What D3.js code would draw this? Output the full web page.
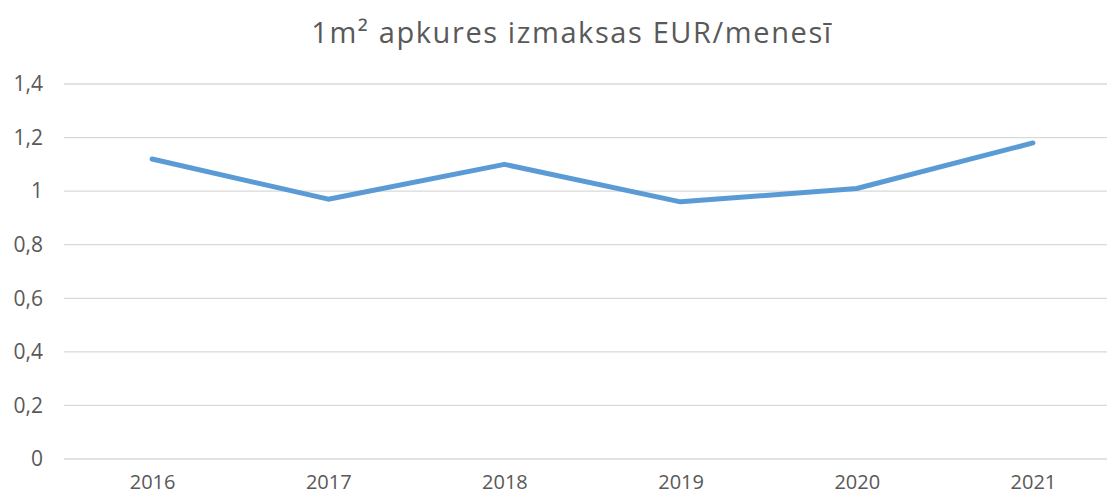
<!DOCTYPE html>
<html>
<head>
<meta charset="utf-8">
<script src="https://cdn.jsdelivr.net/npm/d3@7"></script>
<style>
  body { margin: 0; background: #fff; }
  text { font-family: "Open Sans", "Noto Sans", sans-serif; fill: #595959; }
</style>
</head>
<body>
<div id="chart"></div>
<script>
// Data
const years = ["2016", "2017", "2018", "2019", "2020", "2021"]
const costs = [1.12, 0.97, 1.10, 0.96, 1.01, 1.18]
const yTicks = [0, 0.2, 0.4, 0.6, 0.8, 1, 1.2, 1.4]
const title = "1m² apkures izmaksas EUR/menesī"

// Dimensions
let dimensions = {
    width: 1107,
    height: 497,
    margin: { top: 84, right: -14, bottom: 38, left: 64 },
}
dimensions.boundedWidth = dimensions.width - dimensions.margin.left - dimensions.margin.right
dimensions.boundedHeight = dimensions.height - dimensions.margin.top - dimensions.margin.bottom

const svg = d3.select("#chart")
    .append("svg")
        .attr("width", dimensions.width)
        .attr("height", dimensions.height)
const bounds = svg.append("g")
    .attr("transform", `translate(${dimensions.margin.left},${dimensions.margin.top})`)

// Scales
const xScale = d3.scalePoint()
    .domain(years)
    .range([0, dimensions.boundedWidth])
    .padding(0.5)
const yScale = d3.scaleLinear()
    .domain([0, 1.4])
    .range([dimensions.boundedHeight, 0])

// Gridlines
bounds.append("g")
    .selectAll("line")
    .data(yTicks)
    .join("line")
        .attr("x1", 0)
        .attr("x2", dimensions.boundedWidth)
        .attr("y1", d => yScale(d))
        .attr("y2", d => yScale(d))
        .attr("stroke", "#d9d9d9")
        .attr("stroke-width", 1.3)

// Y axis
const yAxis = bounds.append("g")
    .call(d3.axisLeft(yScale)
        .tickValues(yTicks)
        .tickSize(0)
        .tickPadding(21)
        .tickFormat(d => d3.format("")(d).replace(".", ",")))
yAxis.select(".domain").remove()
yAxis.selectAll("text")
    .style("font-size", "21px")
    .attr("fill", "#595959")

// X axis
const xAxis = bounds.append("g")
    .attr("transform", `translate(0,${dimensions.boundedHeight})`)
    .call(d3.axisBottom(xScale).tickSize(0).tickPadding(16))
xAxis.select(".domain").remove()
xAxis.selectAll("text")
    .style("font-size", "20px")
    .attr("fill", "#595959")

// Line
const lineGenerator = d3.line()
    .x((d, i) => xScale(years[i]))
    .y(d => yScale(d))
bounds.append("path")
    .attr("d", lineGenerator(costs))
    .attr("fill", "none")
    .attr("stroke", "#5b9bd5")
    .attr("stroke-width", 5)
    .attr("stroke-linejoin", "round")
    .attr("stroke-linecap", "round")

// Title
svg.append("text")
    .attr("x", 572)
    .attr("y", 43)
    .attr("text-anchor", "middle")
    .style("font-size", "29px")
    .style("letter-spacing", "1.6px")
    .text(title)
</script>
</body>
</html>
